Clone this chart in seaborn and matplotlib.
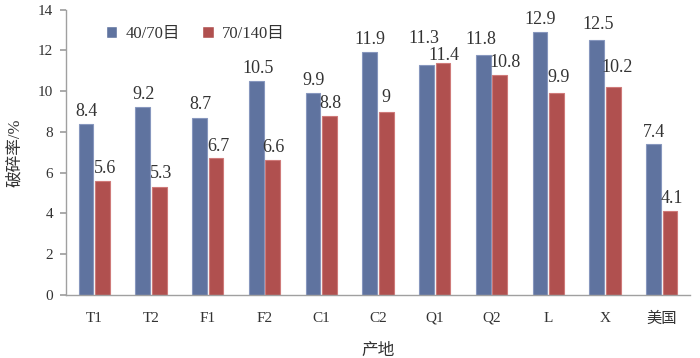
import matplotlib
matplotlib.use("Agg")
import matplotlib.pyplot as plt
import seaborn as sns
import pandas as pd

categories = ["T1", "T2", "F1", "F2", "C1", "C2", "Q1", "Q2", "L", "X", "美国"]
series_names = ["40/70目", "70/140目"]
vals_40_70 = [8.4, 9.2, 8.7, 10.5, 9.9, 11.9, 11.3, 11.8, 12.9, 12.5, 7.4]
vals_70_140 = [5.6, 5.3, 6.7, 6.6, 8.8, 9, 11.4, 10.8, 9.9, 10.2, 4.1]
yticks = [0, 2, 4, 6, 8, 10, 12, 14]

# label placement nudges (pixels): (dx, extra dy) per bar
nudge_40_70 = [(1, 0), (1, 0), (1, 1), (2, 0), (1, 0), (0, 0), (-3, 14), (-2, 3), (0, 0), (1, 3), (0, -1)]
nudge_70_140 = [(3, 0), (2, 1), (2, -1), (1, 0), (1, 0), (0, 2), (1, -5), (5, 0), (2, 3), (4, 7), (2, 0)]

sns.set_theme(style="white")
fam = ["Liberation Serif", "Noto Sans CJK SC", "DejaVu Sans"]
plt.rcParams["font.family"] = fam

df = pd.DataFrame({
    "产地": categories * 2,
    "破碎率": vals_40_70 + vals_70_140,
    "系列": [series_names[0]] * len(categories) + [series_names[1]] * len(categories),
})

colors = ["#5F739F", "#B0504F"]
fig = plt.figure(figsize=(7, 3.58), dpi=100)
ax = fig.add_axes([0.094, 0.176, 0.892, 0.797])
sns.barplot(data=df, x="产地", y="破碎率", hue="系列", palette=colors,
            width=0.58, gap=0.1, ax=ax, saturation=1, legend=True)

edge_cols = ["#8797BE", "#CF7A79"]
for cont, nudges, ec in zip(ax.containers, [nudge_40_70, nudge_70_140], edge_cols):
    for patch, v, (dx, dy) in zip(cont.patches, cont.datavalues, nudges):
        patch.set_edgecolor(ec)
        patch.set_linewidth(0.8)
        cx = patch.get_x() + patch.get_width() / 2
        ax.annotate("%g" % v, xy=(cx, v), xytext=(dx, 12.5 + dy),
                    textcoords="offset pixels", ha="center", va="center",
                    fontsize=13, color="#333333")

ax.set_ylim(0, 14)
ax.set_yticks(yticks)
ax.set_xlim(-0.5, len(categories) - 0.5)
for s in ["top", "right"]:
    ax.spines[s].set_visible(False)
for s in ["left", "bottom"]:
    ax.spines[s].set_color("#A0A0A0")
    ax.spines[s].set_linewidth(1)
ax.tick_params(axis="y", which="both", left=True, length=4, color="#A0A0A0",
               labelsize=11, labelcolor="#333333", pad=5)
ax.tick_params(axis="x", bottom=False, labelsize=11, labelcolor="#333333", pad=6)
ax.set_xlabel("产地", fontsize=12, color="#333333", labelpad=12)
ax.set_ylabel("破碎率/%", fontsize=12, color="#333333", labelpad=11)

leg = ax.legend(loc="upper left", bbox_to_anchor=(0.04, 0.995), ncol=2, frameon=False,
                fontsize=12, handlelength=0.7, handleheight=0.7, columnspacing=1.3,
                handletextpad=0.5)
for t in leg.get_texts():
    t.set_color("#333333")

fig.savefig("out.png", dpi=100)
